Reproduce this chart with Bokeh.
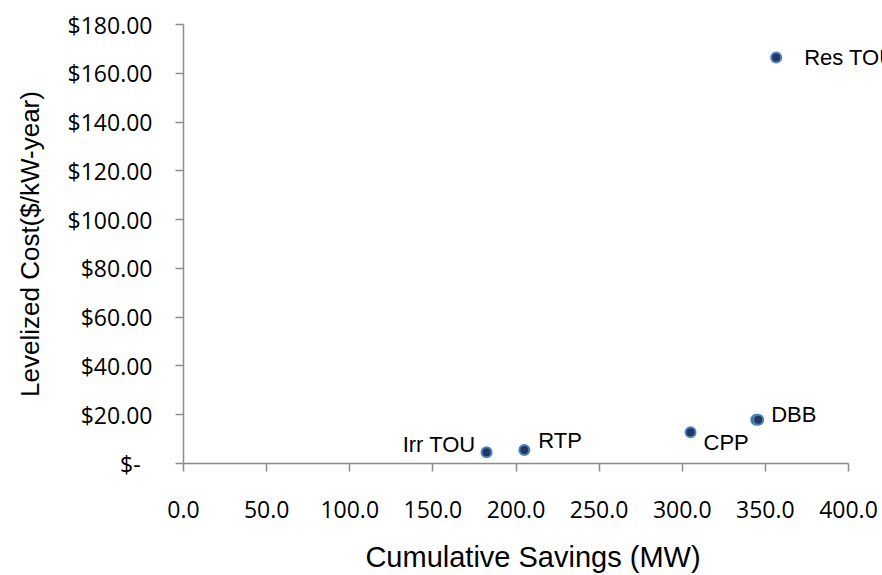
from bokeh.plotting import figure
from bokeh.models import ColumnDataSource, Range1d, FixedTicker
from bokeh.core.properties import value
from bokeh.embed import file_html
from bokeh.resources import INLINE

# ---- data ----
programs = ["Irr TOU", "RTP", "CPP", "DBB", "", "Res TOU"]
savings_mw = [182.3, 205.0, 305.0, 344.5, 345.7, 356.5]
cost_per_kw_year = [4.6, 5.5, 12.8, 17.9, 17.9, 166.5]

x_ticks = [0, 50, 100, 150, 200, 250, 300, 350, 400]
x_tick_labels = ["0.0", "50.0", "100.0", "150.0", "200.0", "250.0", "300.0", "350.0", "400.0"]
y_ticks = [0, 20, 40, 60, 80, 100, 120, 140, 160, 180]
y_tick_labels = ["$-\u00a0\u00a0", "$20.00", "$40.00", "$60.00", "$80.00", "$100.00",
                 "$120.00", "$140.00", "$160.00", "$180.00"]

x_title = "Cumulative Savings (MW)"
y_title = "Levelized Cost($/kW-year)"

# ---- layout / style ----
W, H = 882, 575
FL, FR, FT, FB = 183, 882, 24, 463          # frame edges in pixels
AXIS_END_PX = 848                            # where 400.0 sits
x_end = x_ticks[-1] * (FR - FL) / (AXIS_END_PX - FL)

label_place = {  # name: (x_offset, y_offset, align)
    "Irr TOU": (-11, -8, "right"),
    "RTP": (14, -10, "left"),
    "CPP": (13, 10, "left"),
    "DBB": (15, -5, "left"),
    "": (0, 0, "left"),
    "Res TOU": (28, 0, "left"),
}

src = ColumnDataSource(dict(
    x=savings_mw, y=cost_per_kw_year, name=programs,
    xo=[label_place[n][0] for n in programs],
    yo=[label_place[n][1] for n in programs],
    al=[label_place[n][2] for n in programs],
))

p = figure(width=W, height=H, output_backend="svg", toolbar_location=None,
           x_range=Range1d(0, x_end), y_range=Range1d(y_ticks[0], y_ticks[-1]))
p.min_border_left = FL
p.min_border_right = W - FR
p.min_border_top = FT
p.min_border_bottom = H - FB
p.outline_line_color = None
p.xgrid.visible = False
p.ygrid.visible = False
p.background_fill_color = "white"
p.border_fill_color = "white"

axis_col = "#8c8c8c"
for ax in (p.xaxis[0], p.yaxis[0]):
    ax.axis_line_color = axis_col
    ax.axis_line_width = 1.5
    ax.major_tick_line_color = axis_col
    ax.major_tick_line_width = 1.5
    ax.major_tick_out = 8
    ax.major_tick_in = 0
    ax.minor_tick_line_color = None
    ax.major_label_text_font = "Open Sans"
    ax.major_label_text_font_size = "23px"
    ax.major_label_text_color = "black"
    ax.axis_label_text_font = "Liberation Sans"
    ax.axis_label_text_font_style = "normal"
    ax.axis_label_text_color = "black"

p.xaxis.ticker = FixedTicker(ticks=x_ticks)
p.xaxis.major_label_overrides = dict(zip(x_ticks, x_tick_labels))
p.xaxis.bounds = (x_ticks[0], x_ticks[-1])
p.xaxis.axis_label = x_title
p.xaxis.axis_label_text_font_size = "29px"
p.xaxis.major_label_standoff = 29
p.xaxis.axis_label_standoff = 20

p.yaxis.ticker = FixedTicker(ticks=y_ticks)
p.yaxis.major_label_overrides = dict(zip(y_ticks, y_tick_labels))
p.yaxis.bounds = (y_ticks[0], y_ticks[-1])
p.yaxis.axis_label = y_title
p.yaxis.axis_label_text_font_size = "26px"
p.yaxis.major_label_standoff = 23
p.yaxis.axis_label_standoff = 20

p.scatter("x", "y", source=src, size=10, fill_color="#203864",
          line_color="#4f81bd", line_width=2)
p.text("x", "y", text="name", source=src, x_offset="xo", y_offset="yo",
       text_align="al", text_baseline="alphabetic",
       text_font=value("Liberation Sans"), text_font_size="22px", text_color="black")

open("out.html", "w").write(file_html(p, INLINE))
